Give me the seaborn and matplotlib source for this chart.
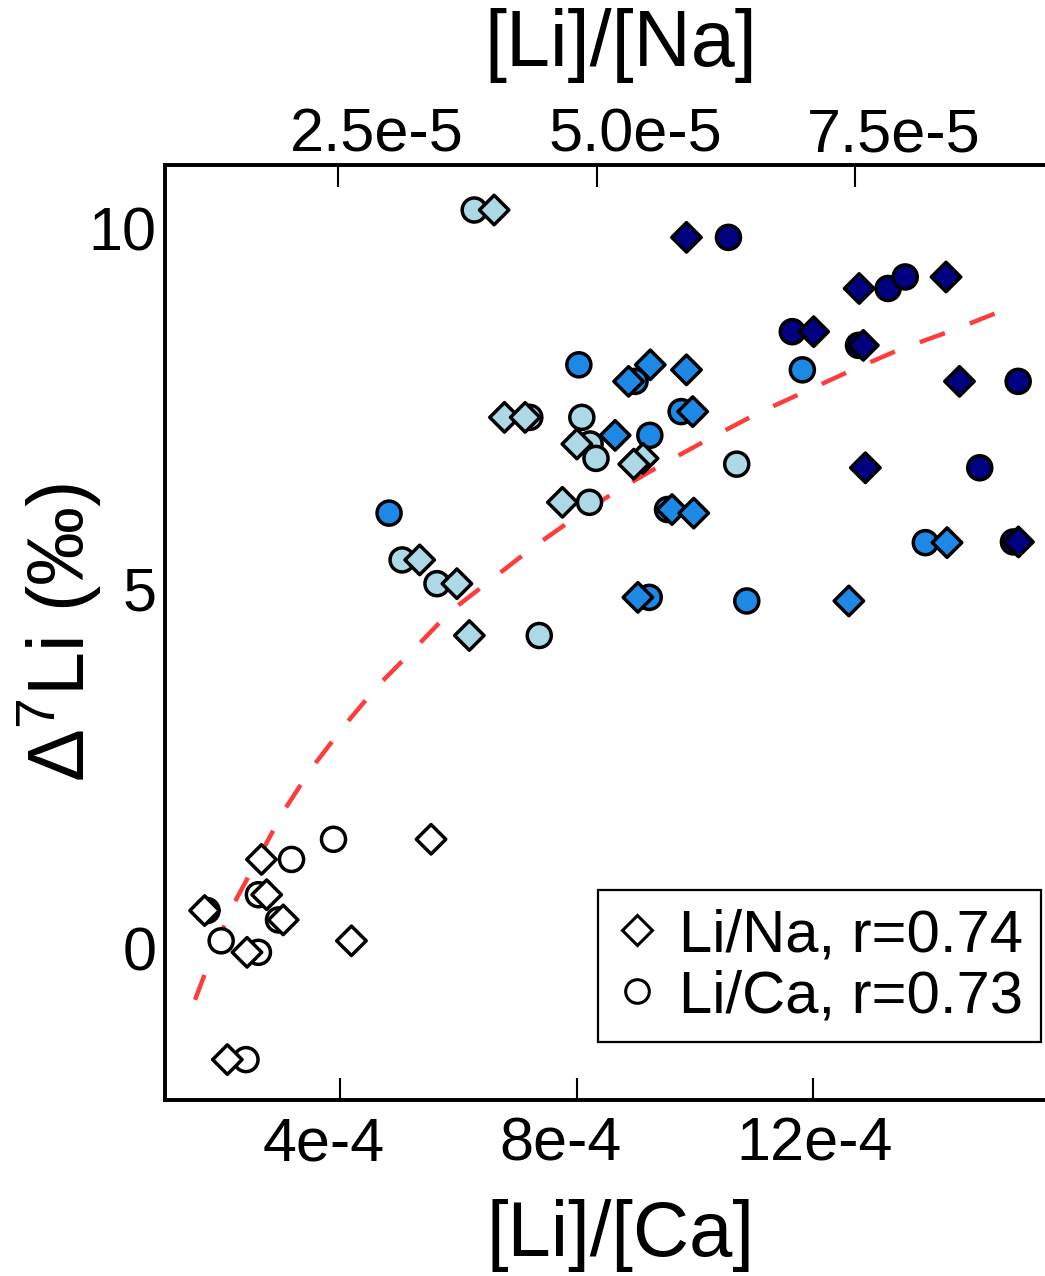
import matplotlib
matplotlib.use("Agg")
import matplotlib.pyplot as plt
from matplotlib.lines import Line2D
from matplotlib.transforms import ScaledTranslation
import pandas as pd
import seaborn as sns

# Sample groups (fill colour classes)
groups = ["white"] * 8 + ["light"] * 10 + ["medium"] * 10 + ["dark"] * 8

# Lithium isotope fractionation, permil
delta_li = [
    -1.55, 1.51, 1.23, 0.52, 0.74, 0.39, -0.06, 0.10,
    10.25, 7.37, 7.37, 7.00, 6.80, 6.72, 6.19, 5.39, 5.06, 4.34,
    8.10, 8.03, 7.87, 7.45, 7.12, 6.09, 6.04, 5.63, 4.87, 4.82,
    9.87, 9.16, 9.32, 8.56, 8.37, 7.87, 6.67, 5.64,
]

# Molar [Li]/[Ca]
li_ca = [
    2.41e-4, 3.89e-4, 3.18e-4, 1.75e-4, 2.62e-4, 2.96e-4, 2.62e-4, 1.99e-4,
    6.27e-4, 7.21e-4, 8.09e-4, 8.23e-4, 8.33e-4, 10.71e-4, 8.22e-4, 5.05e-4, 5.64e-4, 7.37e-4,
    8.04e-4, 11.82e-4, 8.99e-4, 9.77e-4, 9.24e-4, 9.54e-4, 4.83e-4, 13.90e-4, 9.23e-4, 10.88e-4,
    10.57e-4, 13.27e-4, 13.56e-4, 11.65e-4, 12.77e-4, 15.47e-4, 14.82e-4, 15.39e-4,
]

# Molar [Li]/[Na]
li_na = [
    1.43e-5, 3.40e-5, 1.76e-5, 1.21e-5, 1.81e-5, 1.97e-5, 1.62e-5, 2.63e-5,
    4.01e-5, 4.11e-5, 4.31e-5, 4.81e-5, 5.45e-5, 5.36e-5, 4.67e-5, 3.29e-5, 3.65e-5, 3.77e-5,
    5.52e-5, 5.87e-5, 5.31e-5, 5.93e-5, 5.18e-5, 5.73e-5, 5.94e-5, 8.39e-5, 5.40e-5, 7.44e-5,
    5.87e-5, 7.54e-5, 8.38e-5, 7.10e-5, 7.58e-5, 8.51e-5, 7.60e-5, 9.08e-5,
]

# Trend curve against [Li]/[Ca]
fit_li_ca = [
    1.548e-4, 1.801e-4, 2.168e-4, 3.053e-4, 3.521e-4, 4.085e-4, 4.648e-4,
    5.240e-4, 5.860e-4, 6.549e-4, 7.271e-4, 7.998e-4, 8.744e-4, 9.502e-4,
    10.282e-4, 11.073e-4, 11.871e-4, 12.670e-4, 13.485e-4, 14.334e-4, 15.163e-4,
]
fit_delta = [
    -0.72, -0.17, 0.56, 1.91, 2.50, 3.10, 3.65,
    4.14, 4.67, 5.11, 5.57, 5.99, 6.38, 6.74,
    7.09, 7.43, 7.73, 8.03, 8.32, 8.57, 8.84,
]

ca_ticks = [4e-4, 8e-4, 12e-4]
ca_tick_labels = ["4e-4", "8e-4", "12e-4"]
na_ticks = [2.5e-5, 5.0e-5, 7.5e-5]
na_tick_labels = ["2.5e-5", "5.0e-5", "7.5e-5"]
y_ticks = [0, 2.5, 5, 7.5, 10]
y_tick_labels = ["0", "", "5", "", "10"]
legend_labels = ["Li/Na, r=0.74", "Li/Ca, r=0.73"]

palette = {"white": "#ffffff", "light": "#add8e6", "medium": "#1e88e5", "dark": "#000080"}

df = pd.DataFrame({"group": groups, "delta_li": delta_li, "li_ca": li_ca, "li_na": li_na})

sns.set_theme(style="white")
plt.rcParams["font.family"] = ["Liberation Sans", "DejaVu Sans"]
plt.rcParams["mathtext.fontset"] = "custom"
plt.rcParams["mathtext.rm"] = "Liberation Sans"
plt.rcParams["mathtext.it"] = "Liberation Sans:italic"
plt.rcParams["mathtext.bf"] = "Liberation Sans:bold"
for key in ("text.color", "axes.labelcolor", "xtick.color", "ytick.color", "axes.edgecolor"):
    plt.rcParams[key] = "black"

fig = plt.figure(figsize=(10.45, 12.76), dpi=100)
ax = fig.add_axes([165 / 1045, 1 - 1100 / 1276, 880 / 1045, 935 / 1276])

# Trend curve
sns.lineplot(x=fit_li_ca, y=fit_delta, ax=ax, color="#ff3c3c", linewidth=3.2,
             linestyle=(0, (6, 6)), estimator=None, sort=False, zorder=2)

# Li/Ca circles on the bottom axis
sns.scatterplot(data=df, x="li_ca", y="delta_li", hue="group", palette=palette,
                marker="o", s=300, edgecolor="black", linewidth=2.5,
                legend=False, ax=ax, zorder=3)

ax.set_xlim(1.040e-4, 1.5924e-3)
ax.set_ylim(-2.111, 10.875)
ax.set_xticks(ca_ticks)
ax.set_xticklabels(ca_tick_labels)
ax.set_yticks(y_ticks)
ax.set_yticklabels(y_tick_labels)
ax.tick_params(axis="x", direction="in", length=16, width=1.5, labelsize=44,
               pad=12, colors="black")
ax.tick_params(axis="y", direction="in", length=16, width=1.5, labelsize=44,
               pad=6, colors="black")
ax.set_xlabel("[Li]/[Ca]", fontsize=56)
ax.set_ylabel(r"$\mathrm{\Delta}^{7}$Li (‰)", fontsize=57)
ax.xaxis.set_label_coords(0.518, -0.106)
ax.yaxis.set_label_coords(-0.069, 0.5)

# Li/Na diamonds on the top axis
ax2 = ax.twiny()
sns.scatterplot(data=df, x="li_na", y="delta_li", hue="group", palette=palette,
                marker="D", s=225, edgecolor="black", linewidth=2.5,
                legend=False, ax=ax2, zorder=3)
ax2.set_xlim(8.27e-6, 9.337e-5)
ax2.set_xticks(na_ticks)
ax2.set_xticklabels(na_tick_labels)
ax2.tick_params(axis="x", direction="in", length=16, width=1.5, labelsize=44,
                pad=0, colors="black")
ax2.set_xlabel("[Li]/[Na]", fontsize=57)
ax2.xaxis.set_label_coords(0.518, 1.1059)
ax2.set_ylabel("")

for a in (ax, ax2):
    for sp in a.spines.values():
        sp.set_color("black")
        sp.set_linewidth(2.6)
    a.spines["right"].set_visible(False)

# Tick labels are anchored at their left edge, shifted left of each tick
for lbl in ax.get_xticklabels():
    lbl.set_horizontalalignment("left")
    lbl.set_transform(lbl.get_transform() + ScaledTranslation(-0.77, 0, fig.dpi_scale_trans))
for lbl in ax2.get_xticklabels():
    lbl.set_horizontalalignment("left")
    lbl.set_transform(lbl.get_transform() + ScaledTranslation(-0.48, 0, fig.dpi_scale_trans))

handles = [
    Line2D([], [], marker="D", linestyle="none", markerfacecolor="white",
           markeredgecolor="black", markersize=15, markeredgewidth=2.2),
    Line2D([], [], marker="o", linestyle="none", markerfacecolor="white",
           markeredgecolor="black", markersize=17, markeredgewidth=2.2),
]
leg = ax2.legend(handles, legend_labels, loc="lower right",
                 bbox_to_anchor=(0.9955, 0.062), borderaxespad=0,
                 fontsize=43, frameon=True, fancybox=False, framealpha=1,
                 edgecolor="black", handlelength=0.7, handletextpad=0.35,
                 borderpad=0.3, labelspacing=0.1)
leg.get_frame().set_linewidth(1.6)

fig.savefig("out.png", dpi=100, facecolor="white")
